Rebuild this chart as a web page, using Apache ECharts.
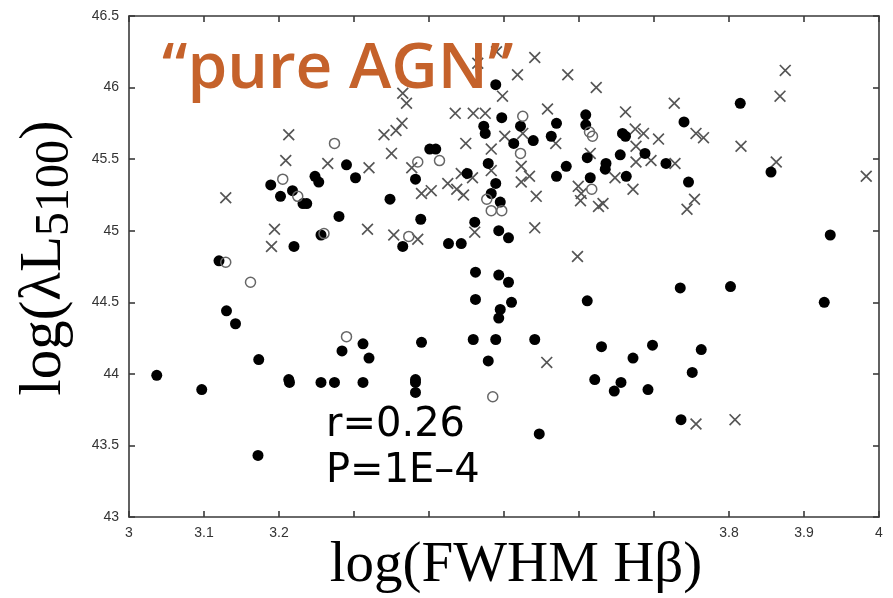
<!DOCTYPE html>
<html><head><meta charset="utf-8">
<script src="https://cdn.jsdelivr.net/npm/echarts@6/dist/echarts.min.js"></script>
<style>html,body{margin:0;padding:0;background:#fff}#c{width:893px;height:598px}</style>
</head><body><div id="c"></div>
<script>
// Filled circles: [log FWHM Hbeta, log lambda L5100]
const filledPoints = [
 [3.037,43.99],[3.097,43.89],[3.172,43.43],[3.120,44.79],[3.130,44.44],[3.142,44.35],[3.173,44.10],
 [3.213,43.96],[3.214,43.94],[3.256,43.94],[3.274,43.94],[3.312,43.94],[3.284,44.16],[3.312,44.21],
 [3.320,44.11],[3.390,44.22],[3.382,43.96],[3.382,43.94],[3.382,43.87],[3.547,43.58],[3.462,44.71],
 [3.493,44.69],[3.506,44.64],[3.462,44.52],[3.510,44.50],[3.495,44.45],[3.493,44.39],[3.459,44.24],
 [3.489,44.24],[3.541,44.24],[3.479,44.09],[3.611,44.51],[3.630,44.19],[3.621,43.96],[3.656,43.94],
 [3.647,43.88],[3.735,44.60],[3.802,44.61],[3.927,44.50],[3.698,44.20],[3.672,44.11],[3.763,44.17],
 [3.751,44.01],[3.692,43.89],[3.736,43.68],
 [3.189,45.32],[3.202,45.24],[3.218,45.28],[3.232,45.19],[3.237,45.19],[3.248,45.38],[3.253,45.34],
 [3.290,45.46],[3.302,45.37],[3.280,45.10],[3.220,44.89],[3.256,44.97],[3.489,46.02],[3.497,45.79],
 [3.473,45.73],[3.475,45.68],[3.522,45.73],[3.570,45.75],[3.563,45.66],[3.609,45.81],[3.609,45.74],
 [3.513,45.61],[3.539,45.63],[3.658,45.68],[3.662,45.66],[3.401,45.57],[3.409,45.57],[3.479,45.47],
 [3.382,45.36],[3.451,45.40],[3.489,45.33],[3.483,45.26],[3.495,45.20],[3.348,45.22],[3.583,45.45],
 [3.570,45.38],[3.611,45.51],[3.636,45.47],[3.635,45.43],[3.655,45.53],[3.663,45.38],[3.615,45.37],
 [3.389,45.08],[3.365,44.89],[3.426,44.91],[3.443,44.91],[3.461,45.06],[3.493,45.00],[3.506,44.95],
 [3.815,45.89],[3.740,45.76],[3.688,45.54],[3.716,45.47],[3.856,45.41],[3.746,45.34],[3.935,44.97]
];
// Open circles
const openPoints = [
 [3.129,44.78],[3.162,44.64],[3.290,44.26],[3.485,43.84],[3.205,45.36],[3.225,45.24],[3.274,45.61],
 [3.260,44.98],[3.525,45.80],[3.614,45.69],[3.618,45.66],[3.385,45.48],[3.414,45.49],[3.522,45.54],
 [3.477,45.22],[3.483,45.14],[3.497,45.14],[3.617,45.29],[3.373,44.96]
];
// Crosses
const crossPoints = [
 [3.129,45.23],[3.213,45.67],[3.209,45.49],[3.265,45.47],[3.320,45.44],[3.194,45.01],[3.190,44.89],
 [3.318,45.01],[3.490,46.25],[3.541,46.21],[3.518,46.09],[3.585,46.09],[3.623,46.00],[3.465,46.17],
 [3.498,45.94],[3.365,45.96],[3.370,45.89],[3.435,45.82],[3.459,45.82],[3.475,45.82],[3.558,45.85],
 [3.662,45.83],[3.364,45.75],[3.356,45.70],[3.340,45.67],[3.350,45.54],[3.501,45.66],[3.525,45.68],
 [3.449,45.61],[3.483,45.57],[3.569,45.61],[3.483,45.42],[3.523,45.45],[3.377,45.44],[3.443,45.40],
 [3.458,45.37],[3.425,45.33],[3.437,45.29],[3.446,45.25],[3.390,45.26],[3.403,45.28],[3.523,45.34],
 [3.534,45.38],[3.543,45.24],[3.615,45.54],[3.648,45.37],[3.599,45.31],[3.603,45.26],[3.602,45.21],
 [3.626,45.17],[3.632,45.19],[3.541,45.02],[3.353,44.97],[3.385,44.94],[3.461,44.99],[3.598,44.82],
 [3.875,46.12],[3.868,45.94],[3.727,45.89],[3.756,45.68],[3.766,45.65],[3.686,45.68],[3.706,45.64],
 [3.675,45.71],[3.676,45.59],[3.676,45.48],[3.696,45.49],[3.728,45.47],[3.816,45.59],[3.863,45.48],
 [3.672,45.29],[3.754,45.22],[3.744,45.15],[3.983,45.38],[3.557,44.08],[3.756,43.65],[3.808,43.68]
];
const xTickLabels = ['3','3.1','3.2','','','','','','3.8','3.9','4'];
const yTickLabels = ['43','43.5','44','44.5','45','45.5','46','46.5'];
const titleText = '\u201Cpure AGN\u201D';
const statR = 'r=0.26';
const statP = 'P=1E\u20134';
const xName = 'log(FWHM H\u03B2)';

const chart = echarts.init(document.getElementById('c'), null, {renderer:'canvas'});
const axisLineStyle = {color:'#3a3a3a', width:1.6};
const crossPath = 'path://M0,1L1,0L10,9L9,10Z M9,0L10,1L1,10L0,9Z';
const option = {
  animation:false,
  backgroundColor:'#fff',
  grid:{left:129, right:14, top:16, bottom:81},
  xAxis:[
    {type:'value', min:3, max:4, interval:0.1, position:'bottom',
     axisLine:{show:true, lineStyle:axisLineStyle},
     axisTick:{show:true, inside:true, length:6, lineStyle:axisLineStyle},
     splitLine:{show:false},
     axisLabel:{margin:9, fontSize:14, color:'#333', fontFamily:'Liberation Sans',
       formatter:(v)=>{const i=Math.round((v-3)*10); return xTickLabels[i]||'';}}},
    {type:'value', min:3, max:4, interval:0.1, position:'top',
     axisLine:{show:true, lineStyle:axisLineStyle},
     axisTick:{show:true, inside:true, length:6, lineStyle:axisLineStyle},
     splitLine:{show:false}, axisLabel:{show:false}}
  ],
  yAxis:[
    {type:'value', min:43, max:46.5, interval:0.5, position:'left',
     axisLine:{show:true, lineStyle:axisLineStyle},
     axisTick:{show:true, inside:true, length:6, lineStyle:axisLineStyle},
     splitLine:{show:false},
     axisLabel:{margin:10, fontSize:14, color:'#333', fontFamily:'Liberation Sans',
       formatter:(v)=>{const i=Math.round((v-43)*2); return yTickLabels[i]||'';}}},
    {type:'value', min:43, max:46.5, interval:0.5, position:'right',
     axisLine:{show:true, lineStyle:axisLineStyle},
     axisTick:{show:true, inside:true, length:6, lineStyle:axisLineStyle},
     splitLine:{show:false}, axisLabel:{show:false}}
  ],
  series:[
    {type:'scatter', data:crossPoints, symbol:crossPath, symbolSize:12,
     itemStyle:{color:'#555', opacity:1}, z:2},
    {type:'scatter', data:filledPoints, symbol:'circle', symbolSize:11,
     itemStyle:{color:'#000', opacity:1}, z:3},
    {type:'scatter', data:openPoints, symbol:'circle', symbolSize:10,
     itemStyle:{color:'rgba(0,0,0,0)', borderColor:'#666', borderWidth:1.5, opacity:1}, z:4}
  ],
  graphic:[
    {type:'text', x:162, y:70, z:10, style:{text:titleText, fill:'#C5622B',
      font:'600 64px "Open Sans"', align:'left', verticalAlign:'middle'}},
    {type:'text', x:326, y:426, z:10, style:{text:statR, fill:'#000',
      font:'40px "DejaVu Sans"', align:'left', verticalAlign:'middle'}},
    {type:'text', x:326, y:472, z:10, style:{text:statP, fill:'#000',
      font:'40px "DejaVu Sans"', align:'left', verticalAlign:'middle'}},
    {type:'text', x:516, y:566, z:10, style:{text:xName, fill:'#000',
      font:'57px "Liberation Serif"', align:'center', verticalAlign:'middle'}},
    {type:'text', x:44, y:258, rotation:Math.PI/2, z:10, style:{
      text:'{a|log(\u03BBL}{b|5100}{a|)}', align:'center', verticalAlign:'middle',
      rich:{
        a:{fontSize:59, fontFamily:'Liberation Serif', fill:'#000', lineHeight:70, verticalAlign:'middle'},
        b:{fontSize:48, fontFamily:'Liberation Serif', fill:'#000', lineHeight:44, verticalAlign:'bottom'}
      }}}
  ]
};
chart.setOption(option);
</script>
</body></html>
